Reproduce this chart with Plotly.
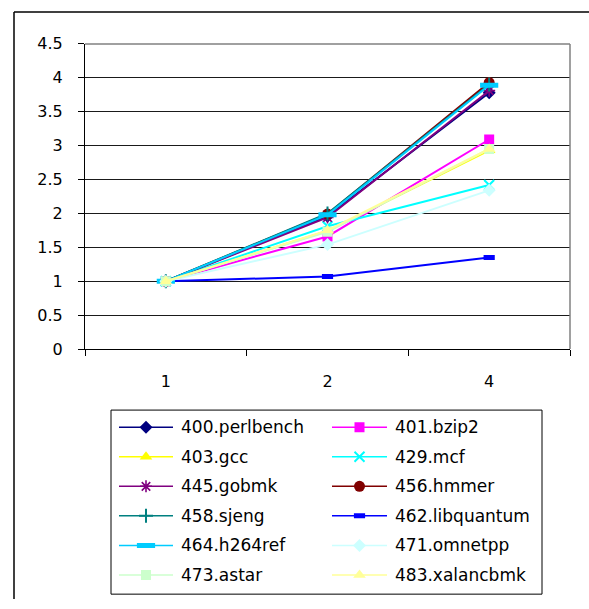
import plotly.graph_objects as go

# Speedup data per benchmark for 1, 2 and 4 threads
threads = ["1", "2", "4"]
names = ["400.perlbench", "401.bzip2", "403.gcc", "429.mcf", "445.gobmk", "456.hmmer",
         "458.sjeng", "462.libquantum", "464.h264ref", "471.omnetpp", "473.astar", "483.xalancbmk"]
perlbench = [1.0, 1.96, 3.78]
bzip2 = [1.0, 1.66, 3.09]
gcc = [1.0, 1.74, 2.93]
mcf = [1.0, 1.81, 2.42]
gobmk = [1.0, 1.94, 3.81]
hmmer = [1.0, 1.99, 3.93]
sjeng = [1.0, 2.0, 3.9]
libquantum = [1.0, 1.07, 1.35]
h264ref = [1.0, 1.98, 3.89]
omnetpp = [1.0, 1.54, 2.34]
astar = [1.0, 1.73, 2.95]
xalancbmk = [1.0, 1.75, 2.95]
series = [perlbench, bzip2, gcc, mcf, gobmk, hmmer, sjeng, libquantum, h264ref, omnetpp, astar, xalancbmk]

# Styles: (line colour, marker symbol, marker size, marker line width)
styles = [
    ("#000080", "diamond", 10, 0),
    ("#FF00FF", "square", 10, 0),
    ("#FFFF00", "triangle-up", 11, 0),
    ("#00FFFF", "x-thin-open", 10, 2),
    ("#800080", "asterisk-open", 10, 1.6),
    ("#800000", "circle", 11, 0),
    ("#008080", "cross-thin-open", 10, 2),
    ("#0000FF", "line-ew-open", 8, 5),
    ("#00CCFF", "line-ew-open", 13, 5),
    ("#CCFFFF", "diamond", 10, 0),
    ("#CCFFCC", "square", 10, 0),
    ("#FFFF99", "triangle-up", 11, 0),
]

W, H = 589, 609
# plot area in pixels
PL, PR, PT, PB = 85, 570, 36, 351
# legend box in pixels
LL, LR, LT, LB = 111, 542, 414, 604

fig = go.Figure()


def marker_dict(color, sym, size, lw):
    if sym.endswith("-open"):
        return dict(symbol=sym, size=size, color=color, line=dict(color=color, width=lw))
    return dict(symbol=sym, size=size, color=color, line=dict(width=0))


for name, vals, (color, sym, size, lw) in zip(names, series, styles):
    fig.add_trace(go.Scatter(
        x=threads, y=vals, name=name, mode="lines+markers",
        line=dict(color=color, width=2),
        marker=marker_dict(color, sym, size, lw),
        xaxis="x", yaxis="y", showlegend=False, cliponaxis=False,
    ))

# Legend drawn on its own hidden axes, laid out in pixel units
row_y0, row_step = 431.7, 30.5
col_x = [(119, 173, 179), (332, 387, 393)]
for i, (name, (color, sym, size, lw)) in enumerate(zip(names, styles)):
    r, c = divmod(i, 2)
    x0, x1, xt = col_x[c]
    yy = row_y0 + r * row_step
    fig.add_trace(go.Scatter(
        x=[x0, x1], y=[yy, yy], mode="lines", line=dict(color=color, width=1.5),
        xaxis="x2", yaxis="y2", showlegend=False, hoverinfo="skip",
    ))
    fig.add_trace(go.Scatter(
        x=[(x0 + x1) / 2], y=[yy], mode="markers", marker=marker_dict(color, sym, size, lw),
        xaxis="x2", yaxis="y2", showlegend=False, hoverinfo="skip",
    ))
    fig.add_annotation(x=xt, y=yy, xref="x2", yref="y2", text=name, showarrow=False,
                       xanchor="left", yanchor="middle",
                       font=dict(family="DejaVu Sans", size=17, color="black"))

shapes = [
    # outer chart frame
    dict(type="line", xref="paper", yref="paper", x0=14 / W, x1=1.0, y0=1 - 3 / H, y1=1 - 3 / H,
         line=dict(color="black", width=1.5)),
    dict(type="line", xref="paper", yref="paper", x0=14 / W, x1=14 / W, y0=0, y1=1 - 3 / H,
         line=dict(color="black", width=1.5)),
    # plot area top and right border
    dict(type="line", xref="paper", yref="paper", x0=PL / W, x1=PR / W, y0=1 - PT / H, y1=1 - PT / H,
         line=dict(color="#808080", width=1.5)),
    dict(type="line", xref="paper", yref="paper", x0=PR / W, x1=PR / W, y0=1 - PT / H, y1=1 - PB / H,
         line=dict(color="#808080", width=1.5)),
    # legend box
    dict(type="rect", xref="paper", yref="paper", x0=LL / W, x1=LR / W, y0=1 - LB / H, y1=1 - LT / H,
         line=dict(color="black", width=1), layer="below"),
]

fig.update_layout(
    width=W, height=H,
    margin=dict(l=0, r=0, t=0, b=0),
    paper_bgcolor="white", plot_bgcolor="white",
    showlegend=False,
    shapes=shapes,
    xaxis=dict(
        domain=[PL / W, PR / W], type="category", categoryorder="array", categoryarray=threads,
        range=[-0.5, 2.5], tickson="boundaries", ticks="outside", ticklen=6, tickcolor="black",
        showline=True, linecolor="black", linewidth=1, showgrid=False, zeroline=False,
        tickfont=dict(family="DejaVu Sans", size=16, color="black"), ticklabelstandoff=18,
        anchor="y",
    ),
    yaxis=dict(
        domain=[1 - PB / H, 1 - PT / H], range=[0, 4.5], dtick=0.5, tick0=0,
        ticks="outside", ticklen=6, tickcolor="black", showline=True, linecolor="black", linewidth=1,
        showgrid=True, gridcolor="#1a1a1a", gridwidth=1, zeroline=False,
        tickfont=dict(family="DejaVu Sans", size=16, color="black"), ticklabelstandoff=12,
        anchor="x",
    ),
    xaxis2=dict(domain=[LL / W, LR / W], range=[LL, LR], visible=False, anchor="y2"),
    yaxis2=dict(domain=[1 - LB / H, 1 - LT / H], range=[LB, LT], visible=False, anchor="x2"),
)

fig.write_html("out.html")
